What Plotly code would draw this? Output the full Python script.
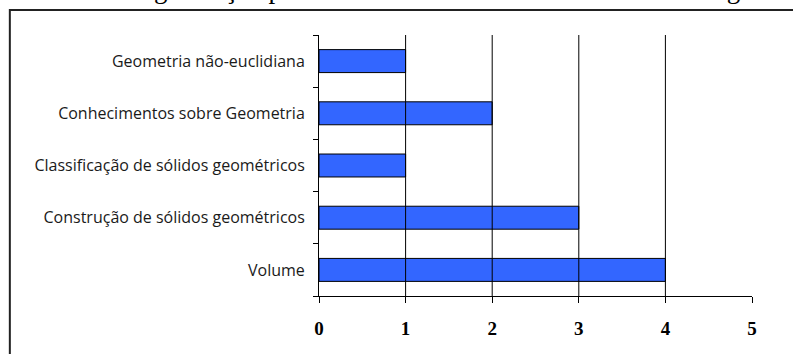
import plotly.graph_objects as go

# Topics covered by the articles and how many articles address each one
categories = [
    "Volume",
    "Construção de sólidos geométricos",
    "Classificação de sólidos geométricos",
    "Conhecimentos sobre Geometria",
    "Geometria não-euclidiana",
]
counts = [4, 3, 1, 2, 1]
x_ticks = [0, 1, 2, 3, 4, 5]
grid_values = [1, 2, 3, 4]
caption = "Gráfico 3: Organização por conteúdo matemático abordado no artigo"

fig = go.Figure(
    go.Bar(
        y=categories,
        x=counts,
        orientation="h",
        marker=dict(color="#3366FF", line=dict(color="#000000", width=1)),
        hoverinfo="x+y",
    )
)

# vertical grid lines at the inner integer ticks only
shapes = [
    dict(type="line", xref="x", yref="paper", x0=v, x1=v, y0=0, y1=1,
         line=dict(color="#000000", width=1), layer="above")
    for v in grid_values
]
# outer frame around the chart
shapes.append(dict(type="rect", xref="paper", yref="paper",
                   x0=-0.714, x1=1.3, y0=-0.4, y1=1.096,
                   line=dict(color="#222222", width=2)))

fig.update_layout(
    width=793,
    height=354,
    margin=dict(l=319, r=41, t=35, b=58),
    paper_bgcolor="white",
    plot_bgcolor="white",
    bargap=0.56,
    showlegend=False,
    shapes=shapes,
    annotations=[
        dict(text=caption, xref="paper", yref="paper", x=-0.72, y=1.113,
             xanchor="left", yanchor="bottom", showarrow=False,
             font=dict(family="Liberation Serif", size=27, color="#000000"))
    ],
    xaxis=dict(
        range=[0, 5],
        tickvals=x_ticks,
        ticks="outside",
        ticklen=6,
        tickcolor="#000000",
        showgrid=False,
        zeroline=False,
        showline=True,
        linecolor="#000000",
        linewidth=1,
        tickfont=dict(family="Liberation Serif", size=19, color="#000000",
                      weight="bold"),
        ticklabelstandoff=9,
    ),
    yaxis=dict(
        type="category",
        categoryorder="array",
        categoryarray=categories,
        tickson="boundaries",
        ticks="outside",
        ticklen=5,
        tickcolor="#000000",
        showgrid=False,
        showline=True,
        linecolor="#000000",
        linewidth=1,
        tickfont=dict(family="Open Sans", size=16, color="#1a1a1a"),
        ticklabelstandoff=10,
    ),
)

fig.write_html("out.html")
